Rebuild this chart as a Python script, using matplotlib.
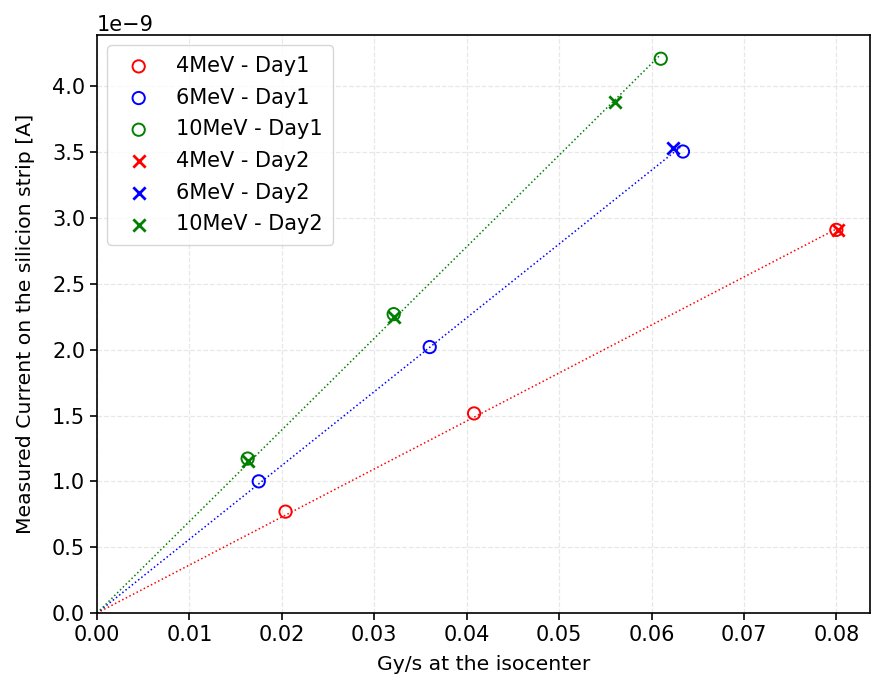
import numpy as np
import matplotlib
matplotlib.use("Agg")
import matplotlib.pyplot as plt

energies = ["4MeV", "6MeV", "10MeV"]
colors = ["red", "blue", "green"]

day1_x = {"4MeV": [0.0204, 0.0408, 0.0800],
          "6MeV": [0.0175, 0.0360, 0.0634],
          "10MeV": [0.0163, 0.0321, 0.0610]}
day1_y = {"4MeV": [0.77e-9, 1.516e-9, 2.91e-9],
          "6MeV": [1.00e-9, 2.02e-9, 3.505e-9],
          "10MeV": [1.173e-9, 2.27e-9, 4.21e-9]}
day2_x = {"4MeV": [0.0802],
          "6MeV": [0.0623],
          "10MeV": [0.0163, 0.0321, 0.0560]}
day2_y = {"4MeV": [2.91e-9],
          "6MeV": [3.535e-9],
          "10MeV": [1.158e-9, 2.25e-9, 3.88e-9]}

fig = plt.figure(figsize=(8.74, 6.8), dpi=100)
ax = fig.add_axes([0.111, 0.0985, 0.884, 0.85])

for e, c in zip(energies, colors):
    ax.scatter(day1_x[e], day1_y[e], facecolors="none", edgecolors=c, marker="o",
               s=78, linewidths=1.4, label=f"{e} - Day1", zorder=3)
for e, c in zip(energies, colors):
    ax.scatter(day2_x[e], day2_y[e], color=c, marker="x", s=78, linewidths=2.0,
               label=f"{e} - Day2", zorder=3)

for e, c in zip(energies, colors):
    xs = np.array(day1_x[e] + day2_x[e])
    ys = np.array(day1_y[e] + day2_y[e])
    slope = np.sum(xs * ys) / np.sum(xs * xs)
    xl = np.array([0, xs.max()])
    ax.plot(xl, slope * xl, linestyle=":", color=c, linewidth=1.1, zorder=2)

ax.set_xlim(0, 0.0836)
ax.set_ylim(0, 4.39e-9)
ax.set_xticks(np.arange(0, 0.081, 0.01))
ax.grid(True, linestyle="--", color="#dddddd", linewidth=0.9, alpha=0.7)
ax.set_axisbelow(True)
for s in ax.spines.values():
    s.set_linewidth(1.2)
ax.set_xlabel("Gy/s at the isocenter", fontsize=14.7, labelpad=7)
ax.set_ylabel("Measured Current on the silicion strip [A]", fontsize=14.7, labelpad=12)
ax.tick_params(labelsize=15, length=5, width=1.2)
ax.yaxis.get_offset_text().set_fontsize(15)
ax.legend(loc="upper left", fontsize=15, borderpad=0.5, labelspacing=0.56,
          handletextpad=0.8)

fig.savefig("out.png", dpi=100)
